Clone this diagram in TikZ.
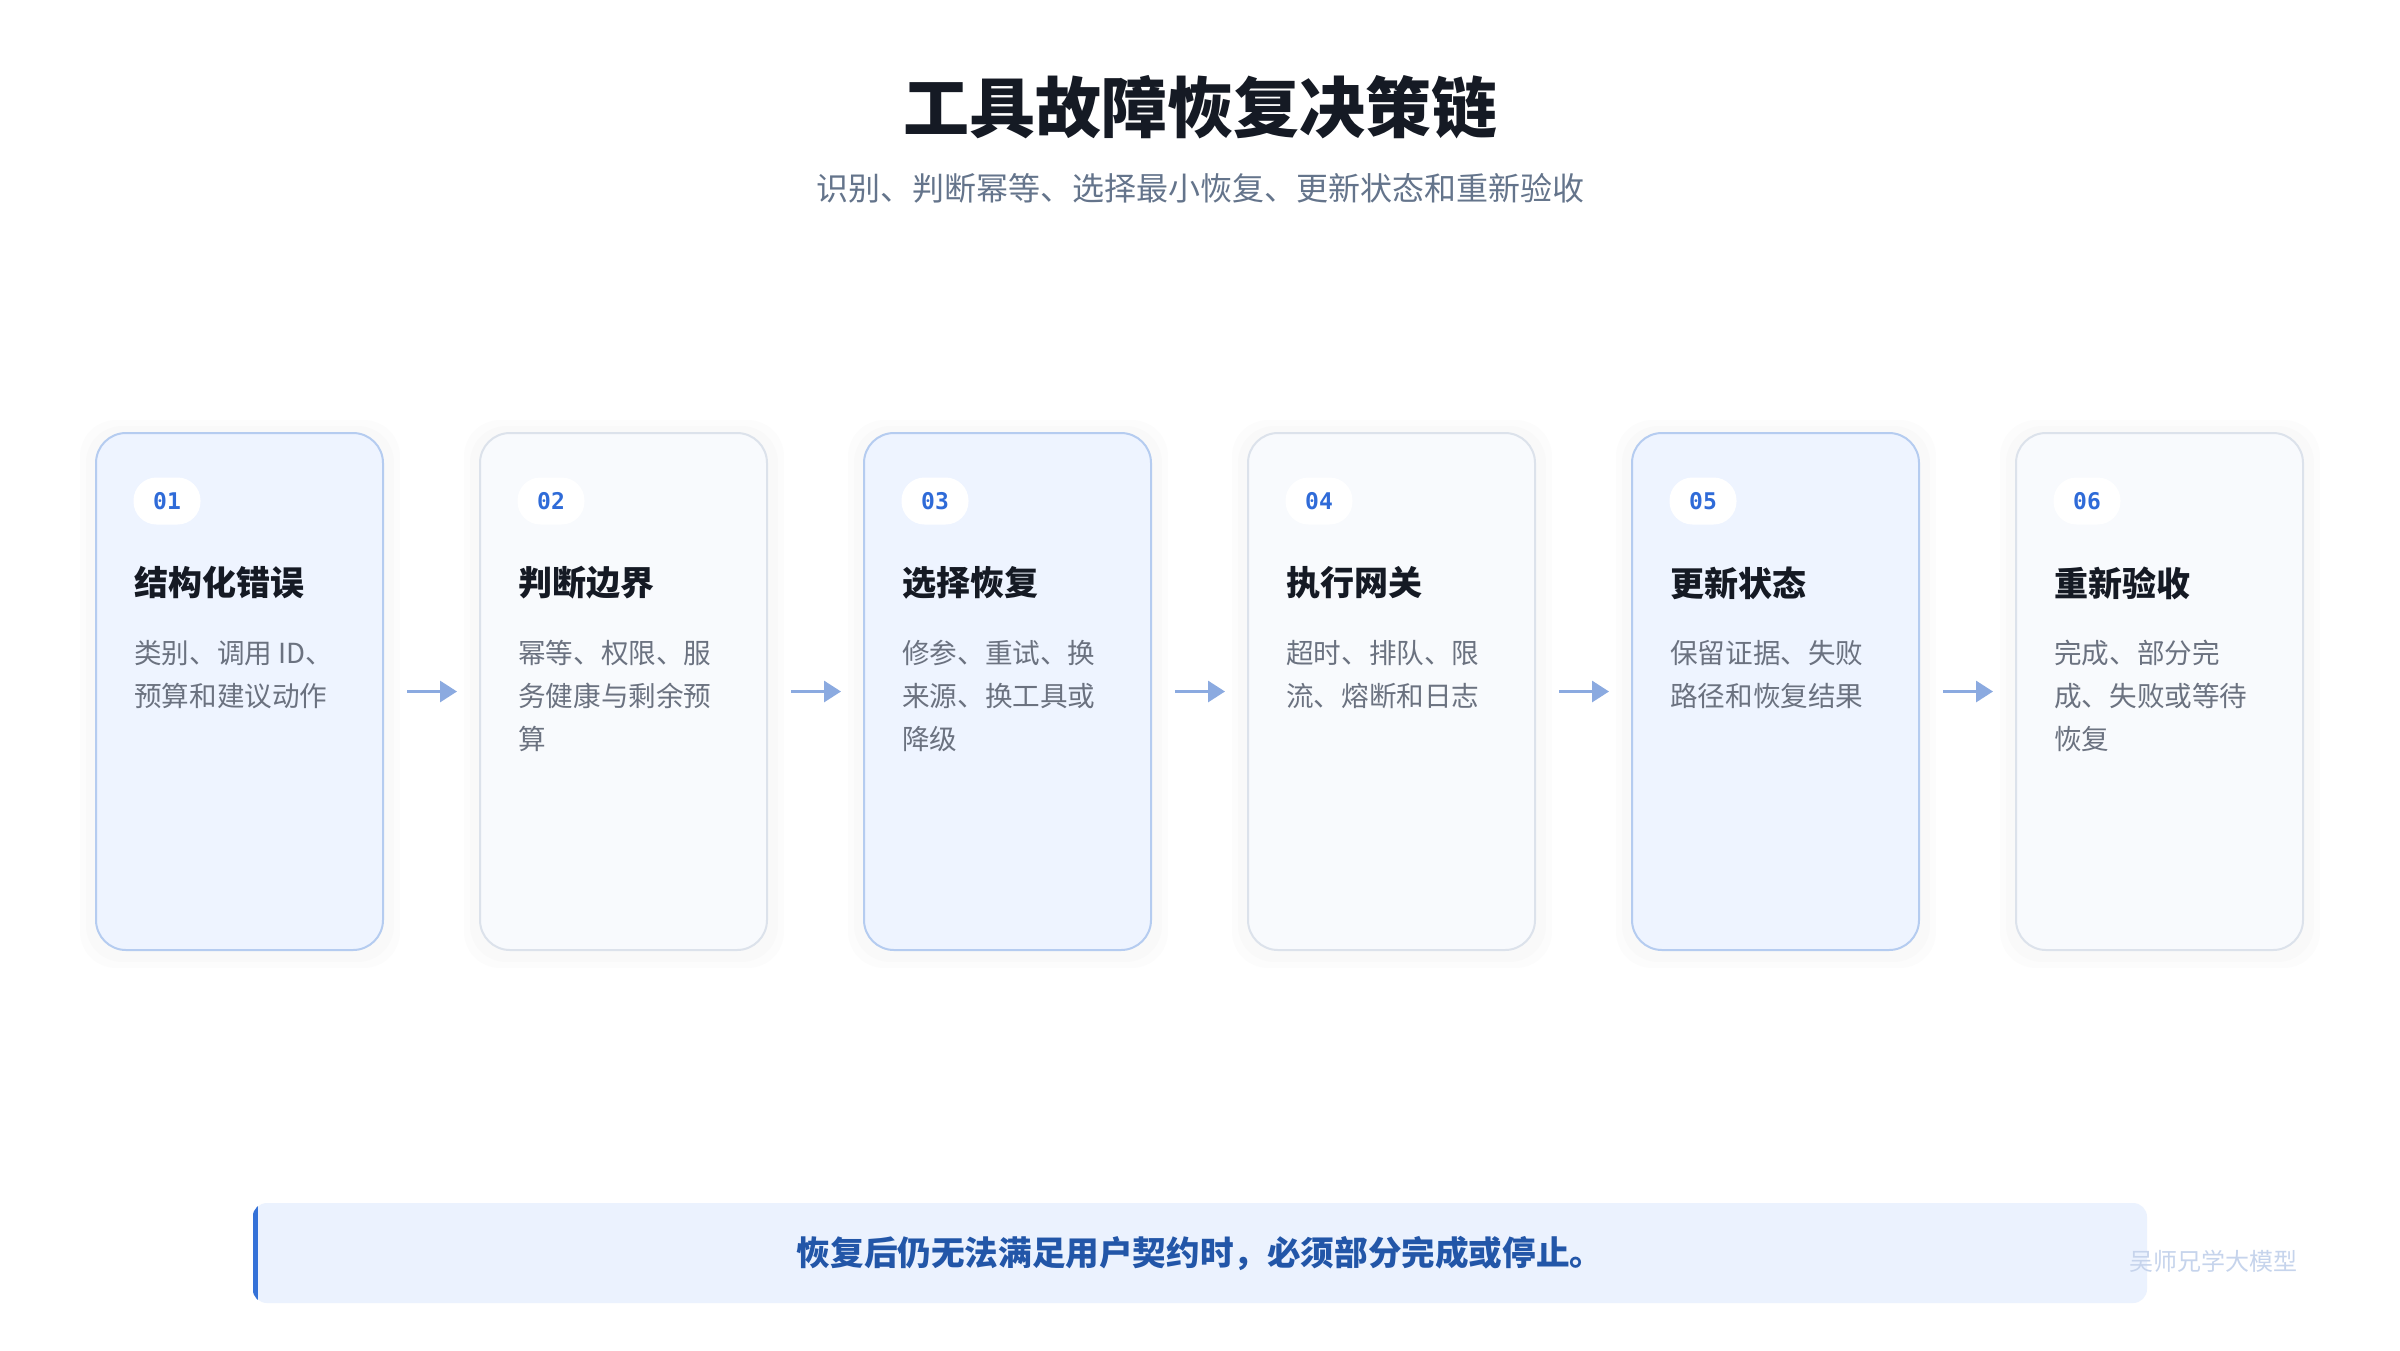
\documentclass[tikz,border=0pt]{standalone}
\usepackage{fontspec}
\setmainfont{Noto Sans CJK SC}
\newfontfamily\monofont{DejaVu Sans Mono}
\usetikzlibrary{arrows.meta, positioning}

\definecolor{inkdark}{HTML}{151A24}
\definecolor{subgray}{HTML}{64748B}
\definecolor{descgray}{HTML}{6B7280}
\definecolor{cardblue}{HTML}{EEF4FF}
\definecolor{cardblueline}{HTML}{B5CCF0}
\definecolor{cardgray}{HTML}{F8FAFD}
\definecolor{cardgrayline}{HTML}{DCE2EB}
\definecolor{badgeblue}{HTML}{2F6BD8}
\definecolor{arrowblue}{HTML}{8BAAE0}
\definecolor{barfill}{HTML}{EBF2FE}
\definecolor{accentblue}{HTML}{3572D8}
\definecolor{notetext}{HTML}{2256A8}
\definecolor{markgray}{HTML}{C6D4EC}

\tikzset{
  card/.style = {line width=2pt, rounded corners=30pt, minimum width=287pt, minimum height=517pt, inner sep=0pt},
  badge/.style = {fill=white, rounded corners=23pt, minimum width=67pt, minimum height=47pt, inner sep=0pt, text=badgeblue, font=\monofont\bfseries\fontsize{23}{23}\selectfont},
  cardtitle/.style = {anchor=west, inner sep=0pt, text=inkdark, font=\bfseries\fontsize{34}{40}\selectfont},
  carddesc/.style = {anchor=north west, inner sep=0pt, align=left, text=descgray, font=\fontsize{27.6}{43}\selectfont},
  flowarrow/.style = {-{Triangle[length=17pt,width=21pt]}, line width=3pt, draw=arrowblue, shorten <=23pt, shorten >=22pt},
  cardshadow/.style = {fill=black, opacity=0.012, rounded corners=36pt}
}

\begin{document}
\begin{tikzpicture}[x=1pt, y=-1pt]
  \useasboundingbox (0,0) rectangle (2400,1350);
  \fill[white] (0,0) rectangle (2400,1350);

  %% heading
  \node[text=inkdark, font=\bfseries\fontsize{66}{70}\selectfont] (title) at (1200,107) {工具故障恢复决策链};
  \node[text=subgray, font=\fontsize{32}{36}\selectfont] (subtitle) at (1200,188) {识别、判断幂等、选择最小恢复、更新状态和重新验收};

  %% cards
  \foreach \i/\fillc/\linec/\num/\title/\desc in {
      0/cardblue/cardblueline/01/结构化错误/{类别、调用 ID、\\预算和建议动作},
      1/cardgray/cardgrayline/02/判断边界/{幂等、权限、服\\务健康与剩余预\\算},
      2/cardblue/cardblueline/03/选择恢复/{修参、重试、换\\来源、换工具或\\降级},
      3/cardgray/cardgrayline/04/执行网关/{超时、排队、限\\流、熔断和日志},
      4/cardblue/cardblueline/05/更新状态/{保留证据、失败\\路径和恢复结果},
      5/cardgray/cardgrayline/06/重新验收/{完成、部分完\\成、失败或等待\\恢复}}{
    \fill[cardshadow] (86+384*\i,426) rectangle (394+384*\i,962);
    \fill[cardshadow] (80+384*\i,420) rectangle (400+384*\i,968);
    \node[card, draw=\linec, fill=\fillc] (c\num) at (239.5+384*\i,691.5) {};
    \node[badge] (b\num) at ([shift={(72,69)}]c\num.north west) {\num};
    \node[cardtitle] (t\num) at ([shift={(39,151)}]c\num.north west) {\title};
    \node[carddesc] (d\num) at ([shift={(39,208)}]c\num.north west) {\desc};
  }

  %% arrows
  \foreach \a/\b in {01/02, 02/03, 03/04, 04/05, 05/06}
    \draw[flowarrow] (c\a) -- (c\b);

  %% note bar
  \node[fill=barfill, rounded corners=14pt, minimum width=1894pt, minimum height=100pt, inner sep=0pt] (note) at (1200,1253) {};
  \begin{scope}
    \clip[rounded corners=14pt] (note.north west) rectangle (note.south east);
    \fill[accentblue] (note.north west) rectangle ([xshift=5pt]note.south west);
  \end{scope}
  \node[text=notetext, font=\bfseries\fontsize{33.6}{36}\selectfont] (notetext) at (note.center) {恢复后仍无法满足用户契约时，必须部分完成或停止。};

  \node[text=markgray, font=\fontsize{24}{26}\selectfont] (mark) at (2213,1261) {吴师兄学大模型};
\end{tikzpicture}
\end{document}
